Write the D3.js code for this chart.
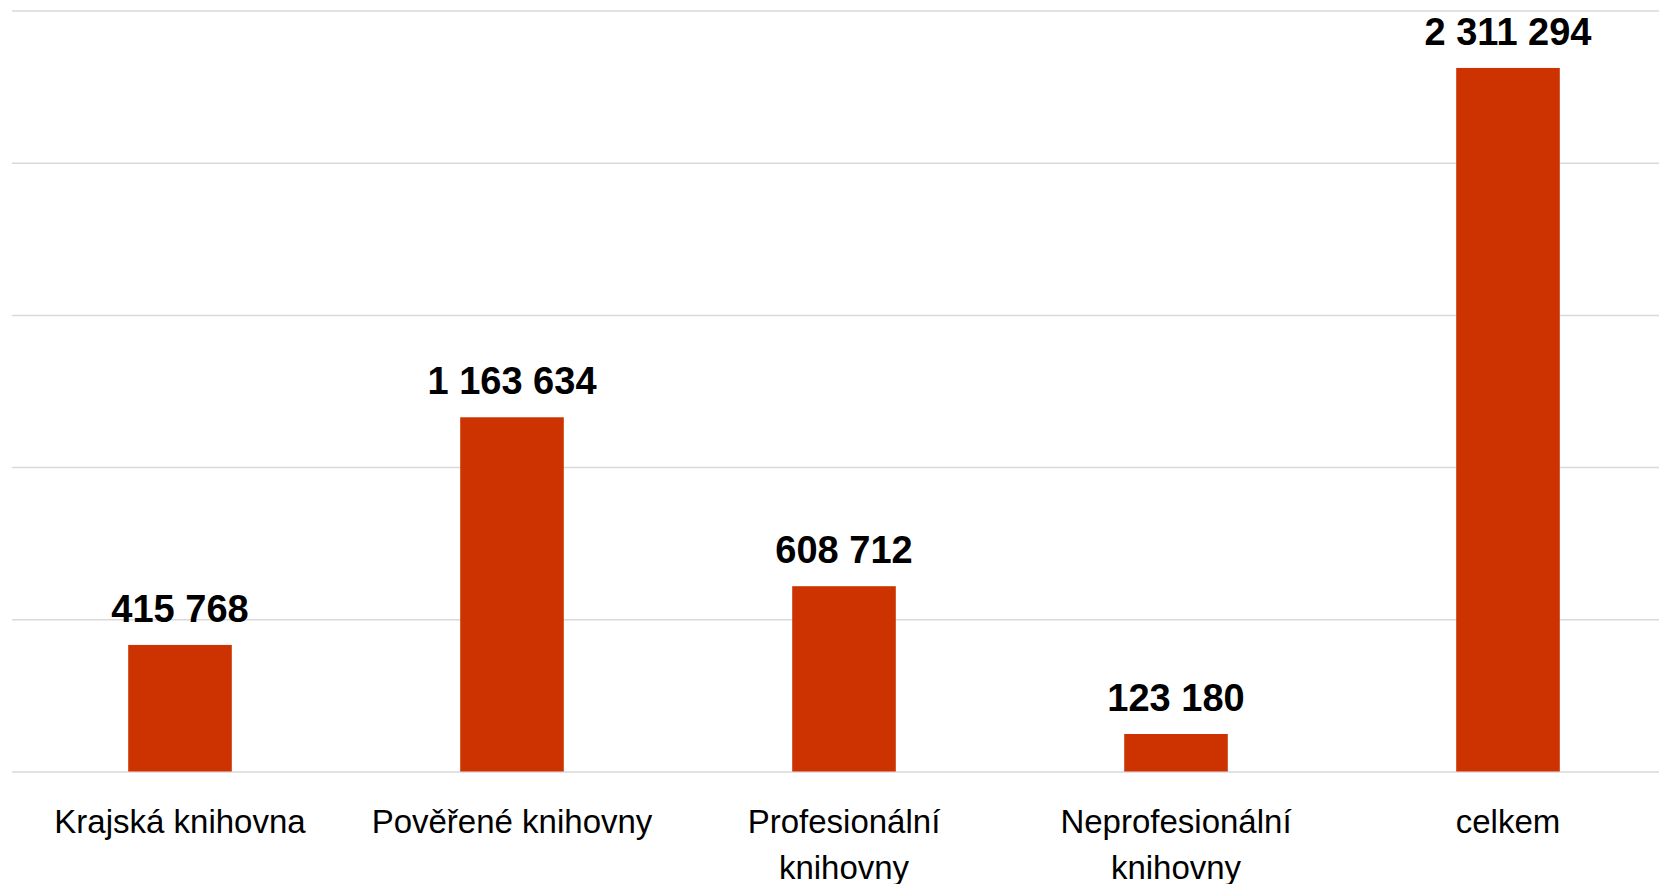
<!DOCTYPE html>
<html>
<head>
<meta charset="utf-8">
<script src="https://cdn.jsdelivr.net/npm/d3@7"></script>
<style>
  html, body { margin: 0; padding: 0; background: #ffffff; overflow: hidden; }
  svg { display: block; }
</style>
</head>
<body>
<svg id="chart" width="1659" height="884"></svg>
<script>
const categories = ["Krajská knihovna", "Pověřené knihovny", "Profesionální knihovny", "Neprofesionální knihovny", "celkem"];
const values = [415768, 1163634, 608712, 123180, 2311294];
const yTicks = [0, 500000, 1000000, 1500000, 2000000, 2500000];

const W = 1659, H = 884;
const svg = d3.select("#chart");
const fontFamily = "'Liberation Sans', Arial, sans-serif";

const x = d3.scaleBand()
  .domain(categories)
  .range([14, 1674])
  .paddingInner(0.688)
  .paddingOuter(0.344);

const y = d3.scaleLinear()
  .domain([0, 2500000])
  .range([771.5, 10.5]);

// gridlines
const grid = svg.append("g")
  .attr("transform", "translate(12,0)")
  .call(d3.axisLeft(y).tickValues(yTicks).tickSize(-(W - 12)).tickFormat(""));
grid.select(".domain").remove();
grid.selectAll(".tick line").attr("stroke", "#d9d9d9").attr("stroke-width", 1.5);

// bars
svg.append("g").selectAll("rect")
  .data(values)
  .join("rect")
  .attr("x", (d, i) => x(categories[i]))
  .attr("y", d => y(d))
  .attr("width", x.bandwidth())
  .attr("height", d => y(0) - y(d))
  .attr("fill", "#cc3300");

// value labels
const fmt = v => d3.format(",")(v).replace(/,/g, " ");
svg.append("g").selectAll("text")
  .data(values)
  .join("text")
  .attr("x", (d, i) => x(categories[i]) + x.bandwidth() / 2)
  .attr("y", d => y(d) - 23)
  .attr("text-anchor", "middle")
  .attr("font-family", fontFamily)
  .attr("font-weight", "bold")
  .attr("font-size", 38)
  .attr("fill", "#000")
  .text(fmt);

// category axis
const xAxis = svg.append("g")
  .attr("transform", `translate(0,${y(0)})`)
  .call(d3.axisBottom(x).tickSize(0).tickPadding(0));
xAxis.select(".domain").remove();
xAxis.selectAll(".tick text").remove();

const maxW = 310;
xAxis.selectAll(".tick").each(function(d) {
  const g = d3.select(this);
  const t = g.append("text")
    .attr("text-anchor", "middle")
    .attr("font-family", fontFamily)
    .attr("font-size", 33)
    .attr("fill", "#000");
  const words = d.split(" ");
  let lines = [];
  let cur = [];
  const probe = t.append("tspan");
  words.forEach(w => {
    const test = cur.concat([w]).join(" ");
    probe.text(test);
    if (probe.node().getComputedTextLength() > maxW && cur.length) {
      lines.push(cur.join(" "));
      cur = [w];
    } else {
      cur.push(w);
    }
  });
  lines.push(cur.join(" "));
  probe.remove();
  lines.forEach((ln, i) => {
    t.append("tspan").attr("x", 0).attr("y", 61 + i * 46).text(ln);
  });
});
</script>
</body>
</html>
